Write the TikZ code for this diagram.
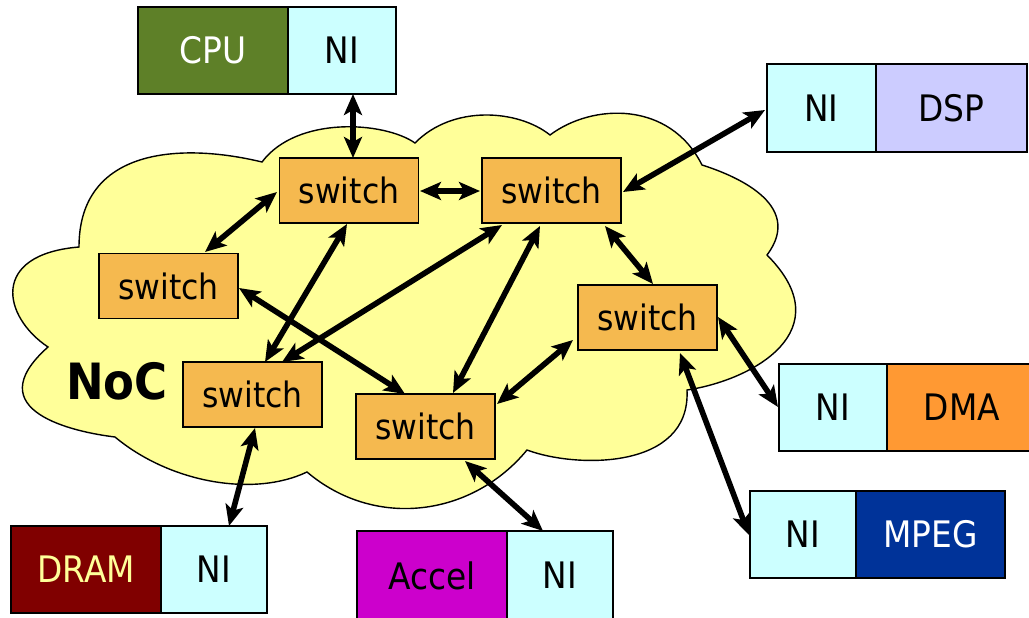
\documentclass[tikz,border=0pt]{standalone}
\usepackage{fontspec}
\setmainfont{DejaVu Sans}[FakeStretch=0.9]
\usetikzlibrary{arrows.meta,calc}

\definecolor{cloudfill}{HTML}{FFFF99}
\definecolor{switchfill}{HTML}{F5B94F}
\definecolor{nifill}{HTML}{CCFFFF}
\definecolor{cpufill}{HTML}{5E8028}
\definecolor{dspfill}{HTML}{CCCCFF}
\definecolor{dmafill}{HTML}{FF9933}
\definecolor{mpegfill}{HTML}{003399}
\definecolor{dramfill}{HTML}{800000}
\definecolor{dramtext}{HTML}{FFFF99}
\definecolor{accelfill}{HTML}{CC00CC}

\tikzset{
  switchbox/.style={draw=black, line width=1.5pt, fill=switchfill,
    minimum width=139pt, minimum height=65pt, inner sep=0pt,
    font=\fontsize{35}{40}\selectfont},
  unitbox/.style={draw=black, line width=1.5pt, inner sep=0pt,
    minimum height=87pt, font=\fontsize{36.5}{42}\selectfont},
  nibox/.style={unitbox, fill=nifill, minimum width=107pt},
  cloudshape/.style={draw=black, line width=1.4pt, fill=cloudfill},
  link/.style={line width=5.6pt, <->,
    >={Stealth[length=21pt,width=18pt,inset=5pt]}},
}

\begin{document}
\begin{tikzpicture}[x=1pt,y=-1pt]
\useasboundingbox (0,0) rectangle (1029,618);
\clip (0,0) rectangle (1029,618);

% the network cloud: one bulge between each pair of dents
\coordinate (c1) at (79,247);
\coordinate (c2) at (262,162);
\coordinate (c3) at (415,143);
\coordinate (c4) at (550,135);
\coordinate (c5) at (702,165);
\coordinate (c6) at (767,255);
\coordinate (c7) at (687,390);
\coordinate (c8) at (527,450);
\coordinate (c9) at (307,472);
\coordinate (c10) at (115,437);
\coordinate (c11) at (48,347);
\draw[cloudshape] (c1)
  .. controls (79,148) and (180.4,142.3) .. (c2)
  .. controls (296.8,115.6) and (384.1,121.4) .. (c3)
  .. controls (453.1,104.2) and (518.6,109.8) .. (c4)
  .. controls (592.7,103) and (670,100.9) .. (c5)
  .. controls (731.1,174.2) and (805.9,203.2) .. (c6)
  .. controls (842.3,330.3) and (753.1,380.1) .. (c7)
  .. controls (691,470) and (576.2,468.5) .. (c8)
  .. controls (472.2,516.5) and (375.2,529.8) .. (c9)
  .. controls (253.5,497.5) and (169.8,482.7) .. (c10)
  .. controls (74.4,432.1) and (-24,411) .. (c11)
  .. controls (2.8,316.9) and (-10.5,254.5) .. (c1) -- cycle;

\node[font=\fontsize{50}{56}\selectfont\bfseries] (noc) at (117,381) {NoC};

% switches
\node[switchbox] (s1) at (349,190.5) {switch};
\node[switchbox] (s2) at (551.5,190.5) {switch};
\node[switchbox] (s3) at (168.5,286) {switch};
\node[switchbox] (s4) at (647.5,317.5) {switch};
\node[switchbox] (s5) at (252.5,394.5) {switch};
\node[switchbox] (s6) at (425.5,426.5) {switch};

% processing elements with their network interfaces
\node[unitbox, fill=cpufill, text=white, minimum width=150pt] (cpu) at (213,50.5) {CPU};
\node[nibox, minimum width=108pt] (nicpu) at (342,50.5) {NI};

\node[nibox, minimum width=109pt, minimum height=88pt] (nidsp) at (821.5,108) {NI};
\node[unitbox, fill=dspfill, minimum width=151pt, minimum height=88pt] (dsp) at (951.5,108) {DSP};

\node[nibox, minimum width=108pt] (nidma) at (833,407.5) {NI};
\node[unitbox, fill=dmafill, minimum width=150pt] (dma) at (962,407.5) {DMA};

\node[nibox, minimum width=106pt] (nimpeg) at (803,534.5) {NI};
\node[unitbox, fill=mpegfill, text=white, minimum width=149pt] (mpeg) at (930.5,534.5) {MPEG};

\node[unitbox, fill=dramfill, text=dramtext, minimum width=150pt] (dram) at (86,569.5) {DRAM};
\node[nibox, minimum width=106pt] (nidram) at (214,569.5) {NI};

\node[unitbox, fill=accelfill, minimum width=150pt, minimum height=89pt] (accel) at (432,575.5) {Accel};
\node[nibox, minimum width=106pt, minimum height=89pt] (niaccel) at (560,575.5) {NI};

% links
\draw[link] ($(nicpu)+(11,43.5)$) -- ($(s1)+(4,-32.5)$);
\draw[link] ($(s1)+(-72,1.5)$) -- ($(s3)+(36.5,-34)$);
\draw[link] ($(s1)+(71,0.5)$) -- ($(s2)+(-71.5,0.5)$);
\draw[link] ($(s2)+(71.5,1.5)$) -- ($(nidsp)+(-56.5,2)$);
\draw[link] ($(s2)+(53.5,35.5)$) -- ($(s4)+(5.5,-33.5)$);
\draw[link] ($(s1)+(-2,33.5)$) -- ($(s5)+(12.5,-32.5)$);
\draw[link] ($(s2)+(-49.5,34.5)$) -- ($(s5)+(29.5,-32.5)$);
\draw[link] ($(s3)+(70.5,2)$) -- ($(s6)+(-20.5,-32.5)$);
\draw[link] ($(s2)+(-11.5,35.5)$) -- ($(s6)+(27.5,-33.5)$);
\draw[link] ($(s4)+(-74.5,22.5)$) -- ($(s6)+(71.5,-22.5)$);
\draw[link] ($(s4)+(70.5,-0.5)$) -- ($(nidma)+(-55,-0.5)$);
\draw[link] ($(s4)+(32.5,35.5)$) -- ($(nimpeg)+(-54,0.5)$);
\draw[link] ($(s5)+(2.5,33.5)$) -- ($(nidram)+(15,-43.5)$);
\draw[link] ($(s6)+(39.5,34.5)$) -- ($(niaccel)+(-17,-44.5)$);
\end{tikzpicture}
\end{document}
